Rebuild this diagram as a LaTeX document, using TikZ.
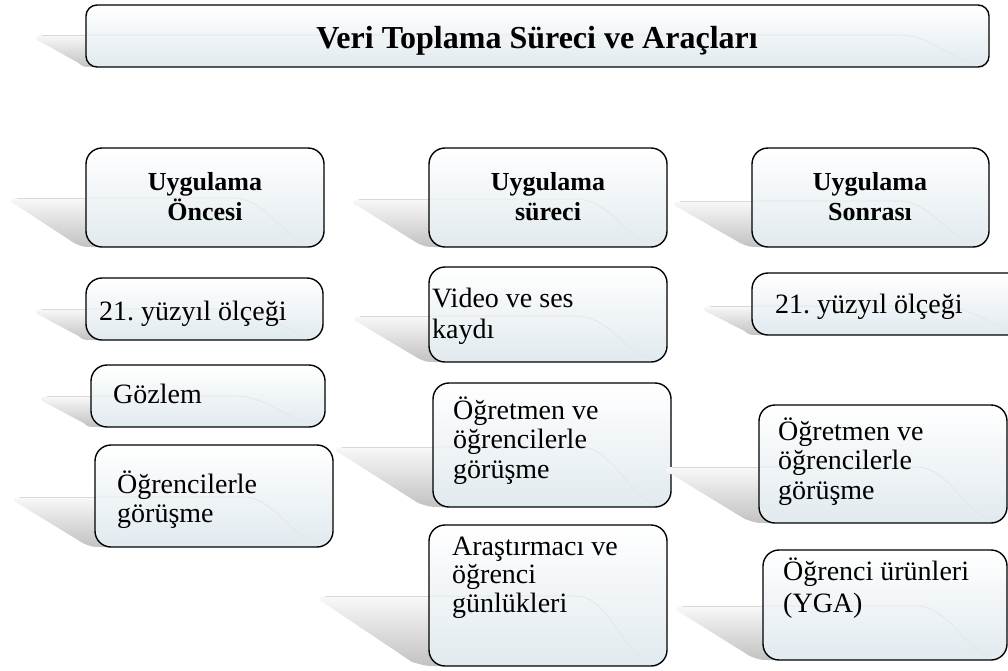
\documentclass[tikz,border=0pt]{standalone}
\usepackage{fontspec}
\setmainfont{Liberation Serif}
\definecolor{boxbot}{RGB}{225,234,239}
\newcommand\mlines[2][29.5]{\vtop{\baselineskip=#1pt\lineskiplimit=-\maxdimen\halign{##\hfil\cr#2\crcr}}}
\newcommand\hdlines[1]{\vtop{\baselineskip=30pt\lineskiplimit=-\maxdimen\halign{\hfil##\hfil\cr#1\crcr}}}
\tikzset{
 wedge/.style={top color=gray!5, bottom color=gray!48, draw=none},
 wedgeedge/.style={draw=gray!30, line width=0.8pt},
 gbox/.style={draw=black, line width=1.4pt, rounded corners=16pt, top color=white, bottom color=boxbot, inner sep=0pt, outer sep=0pt},
 glint/.style={draw=gray!20, line width=0.7pt},
 hdr/.style={anchor=base, inner sep=0pt, font=\fontsize{26}{30}\selectfont\bfseries},
 body/.style={anchor=base west, inner sep=0pt, font=\fontsize{28}{29.5}\selectfont},
 ttl/.style={anchor=base, inner sep=0pt, font=\fontsize{32}{38}\selectfont\bfseries},
}
% #1 name, #2 left, #3 top, #4 right, #5 bottom, #6 tip x, #7 tip y, #8 extra options
\newcommand\glassbox[8]{%
  \path[wedge] ({#2+10},{#7-1}) -- ({#6+7},{#7-1}) .. controls ({#6-1},{#7-1}) and ({#6-1},{#7+4}) .. ({#6+6},{#7+6})
     -- ({#2-0.12*(#5-#3)},{#5-4}) .. controls ({#2-3},{#5}) .. ({#2+10},{#5}) -- cycle;
  \draw[wedgeedge] ({#6+7},{#7-1}) -- ({#2},{#7-1});
  \node[gbox, minimum width={(#4-#2)*1pt}, minimum height={(#5-#3)*1pt}, #8] (#1) at ({(#2+#4)/2},{(#3+#5)/2}) {};
  \draw[glint] ({#2+1},{#7-1}) -- ({#4-90},{#7-1}) .. controls ({#4-60},{#7-1}) and ({#4-40},{#5-10}) .. ({#4-20},{#5-5});
}
\begin{document}
\frenchspacing
\begin{tikzpicture}[x=1pt,y=-1pt]
\useasboundingbox (0,0) rectangle (1008,670);
\clip (0,0) rectangle (1008,670);

\glassbox{title}{86}{5}{989}{67}{35}{36}{rounded corners=11pt}
\node[ttl] (title-t) at (537,48) {Veri Toplama Süreci ve Araçları};

% left column
\glassbox{pre}{86}{148}{324}{247}{10}{199}{}
\node[hdr] (pre-t) at (205,190) {\hdlines{Uygulama\cr Öncesi}};
\glassbox{a1}{86}{278}{323}{340}{35}{310}{}
\node[body] (a1-t) at (99,320) {21. yüzyıl ölçeği};
\glassbox{a2}{91}{365}{325}{427}{40}{397}{}
\node[body] (a2-t) at (113,403) {Gözlem};
\glassbox{a3}{95}{445}{333}{547}{13}{498}{}
\node[body] (a3-t) at (117,493) {\mlines{Öğrencilerle\cr görüşme}};

% middle column
\glassbox{dur}{429}{148}{667}{247}{352}{200}{}
\node[hdr] (dur-t) at (548,190) {\hdlines{Uygulama\cr süreci}};
\glassbox{b1}{429}{267}{667}{362}{353}{317}{}
\node[body] (b1-t) at (432,307) {\mlines[31]{Video ve ses\cr kaydı}};
\glassbox{b2}{433}{383}{671}{507}{335}{448}{}
\node[body] (b2-t) at (453,419) {\mlines{Öğretmen ve\cr öğrencilerle\cr görüşme}};
\glassbox{b3}{429}{525}{667}{666}{318}{597}{}
\node[body] (b3-t) at (452,555) {\mlines[28.5]{Araştırmacı ve\cr öğrenci\cr günlükleri}};

% right column
\glassbox{post}{752}{148}{989}{247}{673}{202}{}
\node[hdr] (post-t) at (870,190) {\hdlines{Uygulama\cr Sonrası}};
\glassbox{c1}{752}{273}{1030}{335}{703}{307}{}
\node[body] (c1-t) at (775,313) {21. yüzyıl ölçeği};
\glassbox{c2}{759}{405}{1007}{523}{665}{468}{}
\node[body] (c2-t) at (778,440) {\mlines{Öğretmen ve\cr öğrencilerle\cr görüşme}};
\glassbox{c3}{763}{550}{1007}{660}{675}{607}{}
\node[body] (c3-t) at (783,580) {\mlines[32]{Öğrenci ürünleri\cr (YGA)}};
\end{tikzpicture}
\end{document}
